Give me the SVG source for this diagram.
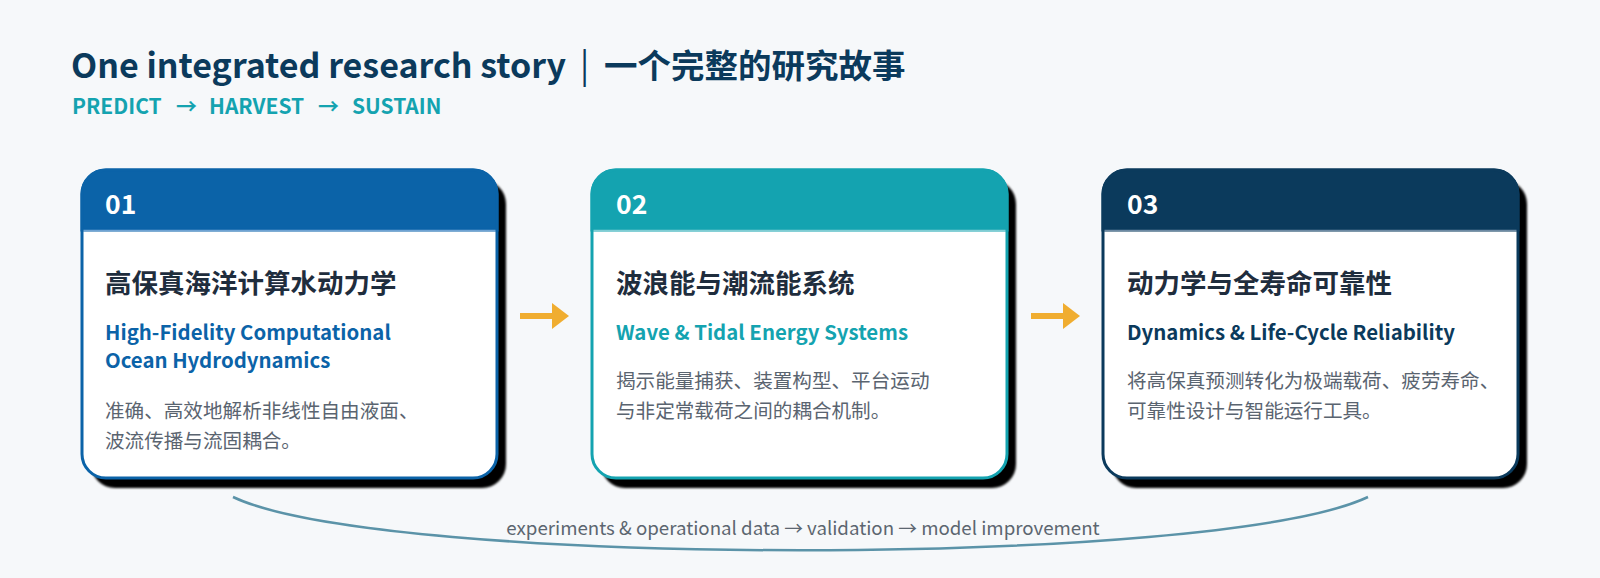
<svg xmlns="http://www.w3.org/2000/svg" width="1600" height="578" viewBox="0 0 1600 578">
<defs>
<filter id="sh" x="-10%" y="-10%" width="130%" height="130%"><feGaussianBlur stdDeviation="1.2"/></filter>
<marker id="ah" viewBox="0 0 17 26" refX="0" refY="13" markerWidth="17" markerHeight="26" markerUnits="userSpaceOnUse" orient="auto"><path d="M0,0 L17,13 L0,26 Z" fill="#f0ad30"/></marker>
</defs>
<style>
text{font-family:"Noto Sans CJK SC","Noto Sans",sans-serif}
.num{font-size:26.5px;font-weight:700;fill:#ffffff}
.ttl{font-size:26.5px;font-weight:700;fill:#1f2d3d}
.en{font-size:20.4px;font-weight:700}
.desc{font-size:19.6px;fill:#5a6470}
.shadow{fill:#000000}
.body{fill:#ffffff;stroke-width:3}
</style>
<rect width="1600" height="578" fill="#f6f8fa"/>
<g id="header">
<text y="78" font-size="34" font-weight="700" fill="#0b3a5c"><tspan x="71">One integrated research story</tspan><tspan x="580" font-weight="400">|</tspan><tspan x="604" font-size="33.5">一个完整的研究故事</tspan></text>
<text y="114" font-size="21" font-weight="700" fill="#14a3b0"><tspan x="72">PREDICT</tspan><tspan x="176">→</tspan><tspan x="209">HARVEST</tspan><tspan x="318">→</tspan><tspan x="352">SUSTAIN</tspan></text>
</g>
<g id="connectors">
<line x1="520" y1="316" x2="552" y2="316" stroke="#f0ad30" stroke-width="6" marker-end="url(#ah)"/>
<line x1="1031" y1="316" x2="1063" y2="316" stroke="#f0ad30" stroke-width="6" marker-end="url(#ah)"/>
<path d="M233,497 C383,568 1218,568 1368,497" fill="none" stroke="#5b93a8" stroke-width="2.5"/>
<text x="803" y="535" font-size="18.7" fill="#5c6670" text-anchor="middle">experiments &amp; operational data → validation → model improvement</text>
</g>
<g id="card1">
<rect class="shadow" x="91" y="180" width="415" height="308" rx="24" filter="url(#sh)"/>
<rect class="body" x="82" y="170" width="415" height="308" rx="24" stroke="#0b63a8"/>
<path d="M82,230 V194 A24,24 0 0 1 106,170 H473 A24,24 0 0 1 497,194 V230 Z" fill="#0b63a8" stroke="#0b63a8" stroke-width="3"/>
<line x1="83.5" y1="230.5" x2="495.5" y2="230.5" stroke="#6fa3d3" stroke-width="1.5"/>
<text class="num" x="105" y="214">01</text>
<text class="ttl" x="105" y="293">高保真海洋计算水动力学</text>
<text class="en" x="105" y="340" fill="#0b63a8">High-Fidelity Computational</text>
<text class="en" x="105" y="368" fill="#0b63a8">Ocean Hydrodynamics</text>
<text class="desc" x="105" y="418">准确、高效地解析非线性自由液面、</text>
<text class="desc" x="105" y="448">波流传播与流固耦合。</text>
</g>
<g id="card2">
<rect class="shadow" x="601" y="180" width="415" height="308" rx="24" filter="url(#sh)"/>
<rect class="body" x="592" y="170" width="415" height="308" rx="24" stroke="#14a3b0"/>
<path d="M592,230 V194 A24,24 0 0 1 616,170 H983 A24,24 0 0 1 1007,194 V230 Z" fill="#14a3b0" stroke="#14a3b0" stroke-width="3"/>
<line x1="593.5" y1="230.5" x2="1005.5" y2="230.5" stroke="#7fcdd4" stroke-width="1.5"/>
<text class="num" x="616" y="214">02</text>
<text class="ttl" x="616" y="293">波浪能与潮流能系统</text>
<text class="en" x="616" y="340" fill="#14a3b0">Wave &amp; Tidal Energy Systems</text>
<text class="desc" x="616" y="388">揭示能量捕获、装置构型、平台运动</text>
<text class="desc" x="616" y="418">与非定常载荷之间的耦合机制。</text>
</g>
<g id="card3">
<rect class="shadow" x="1112" y="180" width="415" height="308" rx="24" filter="url(#sh)"/>
<rect class="body" x="1103" y="170" width="415" height="308" rx="24" stroke="#0b3a5c"/>
<path d="M1103,230 V194 A24,24 0 0 1 1127,170 H1494 A24,24 0 0 1 1518,194 V230 Z" fill="#0b3a5c" stroke="#0b3a5c" stroke-width="3"/>
<line x1="1104.5" y1="230.5" x2="1516.5" y2="230.5" stroke="#6d8aa3" stroke-width="1.5"/>
<text class="num" x="1127" y="214">03</text>
<text class="ttl" x="1127" y="293">动力学与全寿命可靠性</text>
<text class="en" x="1127" y="340" fill="#0b3a5c">Dynamics &amp; Life-Cycle Reliability</text>
<text class="desc" x="1127" y="388">将高保真预测转化为极端载荷、疲劳寿命、</text>
<text class="desc" x="1127" y="418">可靠性设计与智能运行工具。</text>
</g>
</svg>
